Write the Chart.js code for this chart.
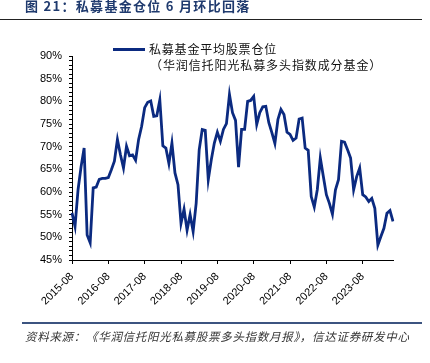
<!DOCTYPE html>
<html>
<head>
<meta charset="utf-8">
<script src="https://cdn.jsdelivr.net/npm/chart.js@4.4.1/dist/chart.umd.min.js"></script>
<style>
  body { margin: 0; width: 430px; height: 363px; background: #fff; position: relative; overflow: hidden; font-family: "Noto Sans CJK SC", sans-serif; }
  #wrap { position: absolute; left: 0; top: 0; width: 430px; height: 363px; }
  .abs { position: absolute; white-space: nowrap; }
  #title { left: 25px; top: -2px; font-size: 13px; font-weight: bold; color: #1F3A6E; letter-spacing: 1.3px; line-height: 16px; }
  #titleLine { left: 0; top: 19px; width: 422px; height: 1px; background: #222; }
  #legLine { left: 113px; top: 48px; width: 32px; height: 3px; background: #0B2A80; }
  #leg1 { left: 149px; top: 41px; font-size: 12px; letter-spacing: 0.8px; line-height: 16px; color: #111; }
  #leg2 { left: 150px; top: 57px; font-size: 12px; letter-spacing: 0.9px; line-height: 16px; color: #111; }
  #footLine { left: 22px; top: 322px; width: 400px; height: 2px; background: #3C5480; }
  #foot { left: 25px; top: 328px; font-size: 11.5px; font-style: italic; color: #333; letter-spacing: 0.7px; line-height: 16px; }
</style>
</head>
<body>
<div id="wrap"><canvas id="positionChart" width="430" height="363"></canvas></div>
<div class="abs" id="title">图 21：私募基金仓位 6 月环比回落</div>
<div class="abs" id="titleLine"></div>
<div class="abs" id="legLine"></div>
<div class="abs" id="leg1">私募基金平均股票仓位</div>
<div class="abs" id="leg2">（华润信托阳光私募多头指数成分基金）</div>
<div class="abs" id="footLine"></div>
<div class="abs" id="foot">资料来源：《华润信托阳光私募股票多头指数月报》，信达证券研发中心</div>

<script>
// monthly, 2015-08 .. 2024-06
const startYear = 2015, startMonth = 8, monthCount = 107;
const months = [];
for (let i = 0; i < monthCount; i++) {
    const m = startMonth - 1 + i;
    const y = startYear + Math.floor(m / 12);
    const mm = (m % 12) + 1;
    months.push(y + "-" + (mm < 10 ? "0" + mm : mm));
}

// tick labels shown on the x axis
const yearTicks = ["2015-08","2016-08","2017-08","2018-08","2019-08","2020-08","2021-08","2022-08","2023-08"];

// average stock position (%)
const positionValues = [
    55.4, 52.4, 60.5, 65.6, 69.7, 50.5, 48.8, 60.9, 61.1, 62.8, 63.0, 63.0,
    63.2, 64.9, 66.8, 71.6, 68.2, 65.3, 70.1, 68.0, 68.2, 67.0, 71.6, 74.5,
    78.6, 79.8, 80.1, 76.7, 76.8, 80.3, 70.2, 69.7, 66.3, 70.8, 64.2, 61.6,
    53.1, 56.2, 51.6, 55.0, 51.3, 57.5, 69.3, 73.8, 73.6, 62.7, 67.1, 70.8,
    73.2, 71.2, 73.8, 75.1, 81.5, 77.5, 75.8, 65.5, 73.8, 73.8, 80.0, 80.2,
    81.1, 74.9, 77.5, 78.8, 78.9, 75.3, 73.1, 70.7, 76.0, 78.2, 77.1, 73.2,
    72.7, 71.4, 71.9, 76.1, 76.3, 69.7, 69.2, 59.0, 56.7, 60.5, 67.5, 63.4,
    59.4, 57.5, 55.1, 60.5, 62.7, 71.2, 71.0, 69.3, 67.5, 60.5, 63.4, 65.3,
    59.4, 58.9, 57.9, 58.6, 56.4, 48.3, 50.2, 52.0, 55.3, 55.9, 53.5
];

const yMin = 45, yMax = 90;

new Chart(document.getElementById("positionChart"), {
    type: 'line',
    data: {
        labels: months,
        datasets: [{
            label: '私募基金平均股票仓位（华润信托阳光私募多头指数成分基金）',
            data: positionValues,
            borderColor: "#0B2A80",
            borderWidth: 2.8,
            pointRadius: 0,
            tension: 0,
            fill: false
        }]
    },
    options: {
        responsive: false,
        animation: false,
        devicePixelRatio: 1,
        layout: { padding: { top: 56, right: 37, bottom: 43, left: 0 } },
        plugins: {
            legend: { display: false },
            tooltip: { enabled: false }
        },
        scales: {
            x: {
                offset: false,
                afterFit: (s) => { s.height = 60; },
                border: { display: true, color: '#000', width: 1 },
                grid: {
                    drawOnChartArea: false,
                    tickLength: 4,
                    color: (ctx) => (yearTicks.includes(months[ctx.index]) ? '#000' : 'rgba(0,0,0,0)')
                },
                ticks: {
                    autoSkip: false,
                    minRotation: 45,
                    maxRotation: 45,
                    padding: 6,
                    color: '#000',
                    font: { family: 'Liberation Sans', size: 11 },
                    callback: (val, i) => (yearTicks.includes(months[i]) ? months[i] : '')
                }
            },
            y: {
                min: yMin,
                max: yMax,
                afterFit: (s) => { s.width = 72; },
                border: { display: true, color: '#000', width: 1 },
                grid: { drawOnChartArea: false, tickLength: 3, color: '#000' },
                ticks: {
                    stepSize: 1,
                    autoSkip: false,
                    padding: 7,
                    color: '#000',
                    font: { family: 'Liberation Sans', size: 11 },
                    callback: (v) => (v % 5 === 0 ? v + '%' : '')
                }
            }
        }
    }
});
</script>
</body>
</html>
